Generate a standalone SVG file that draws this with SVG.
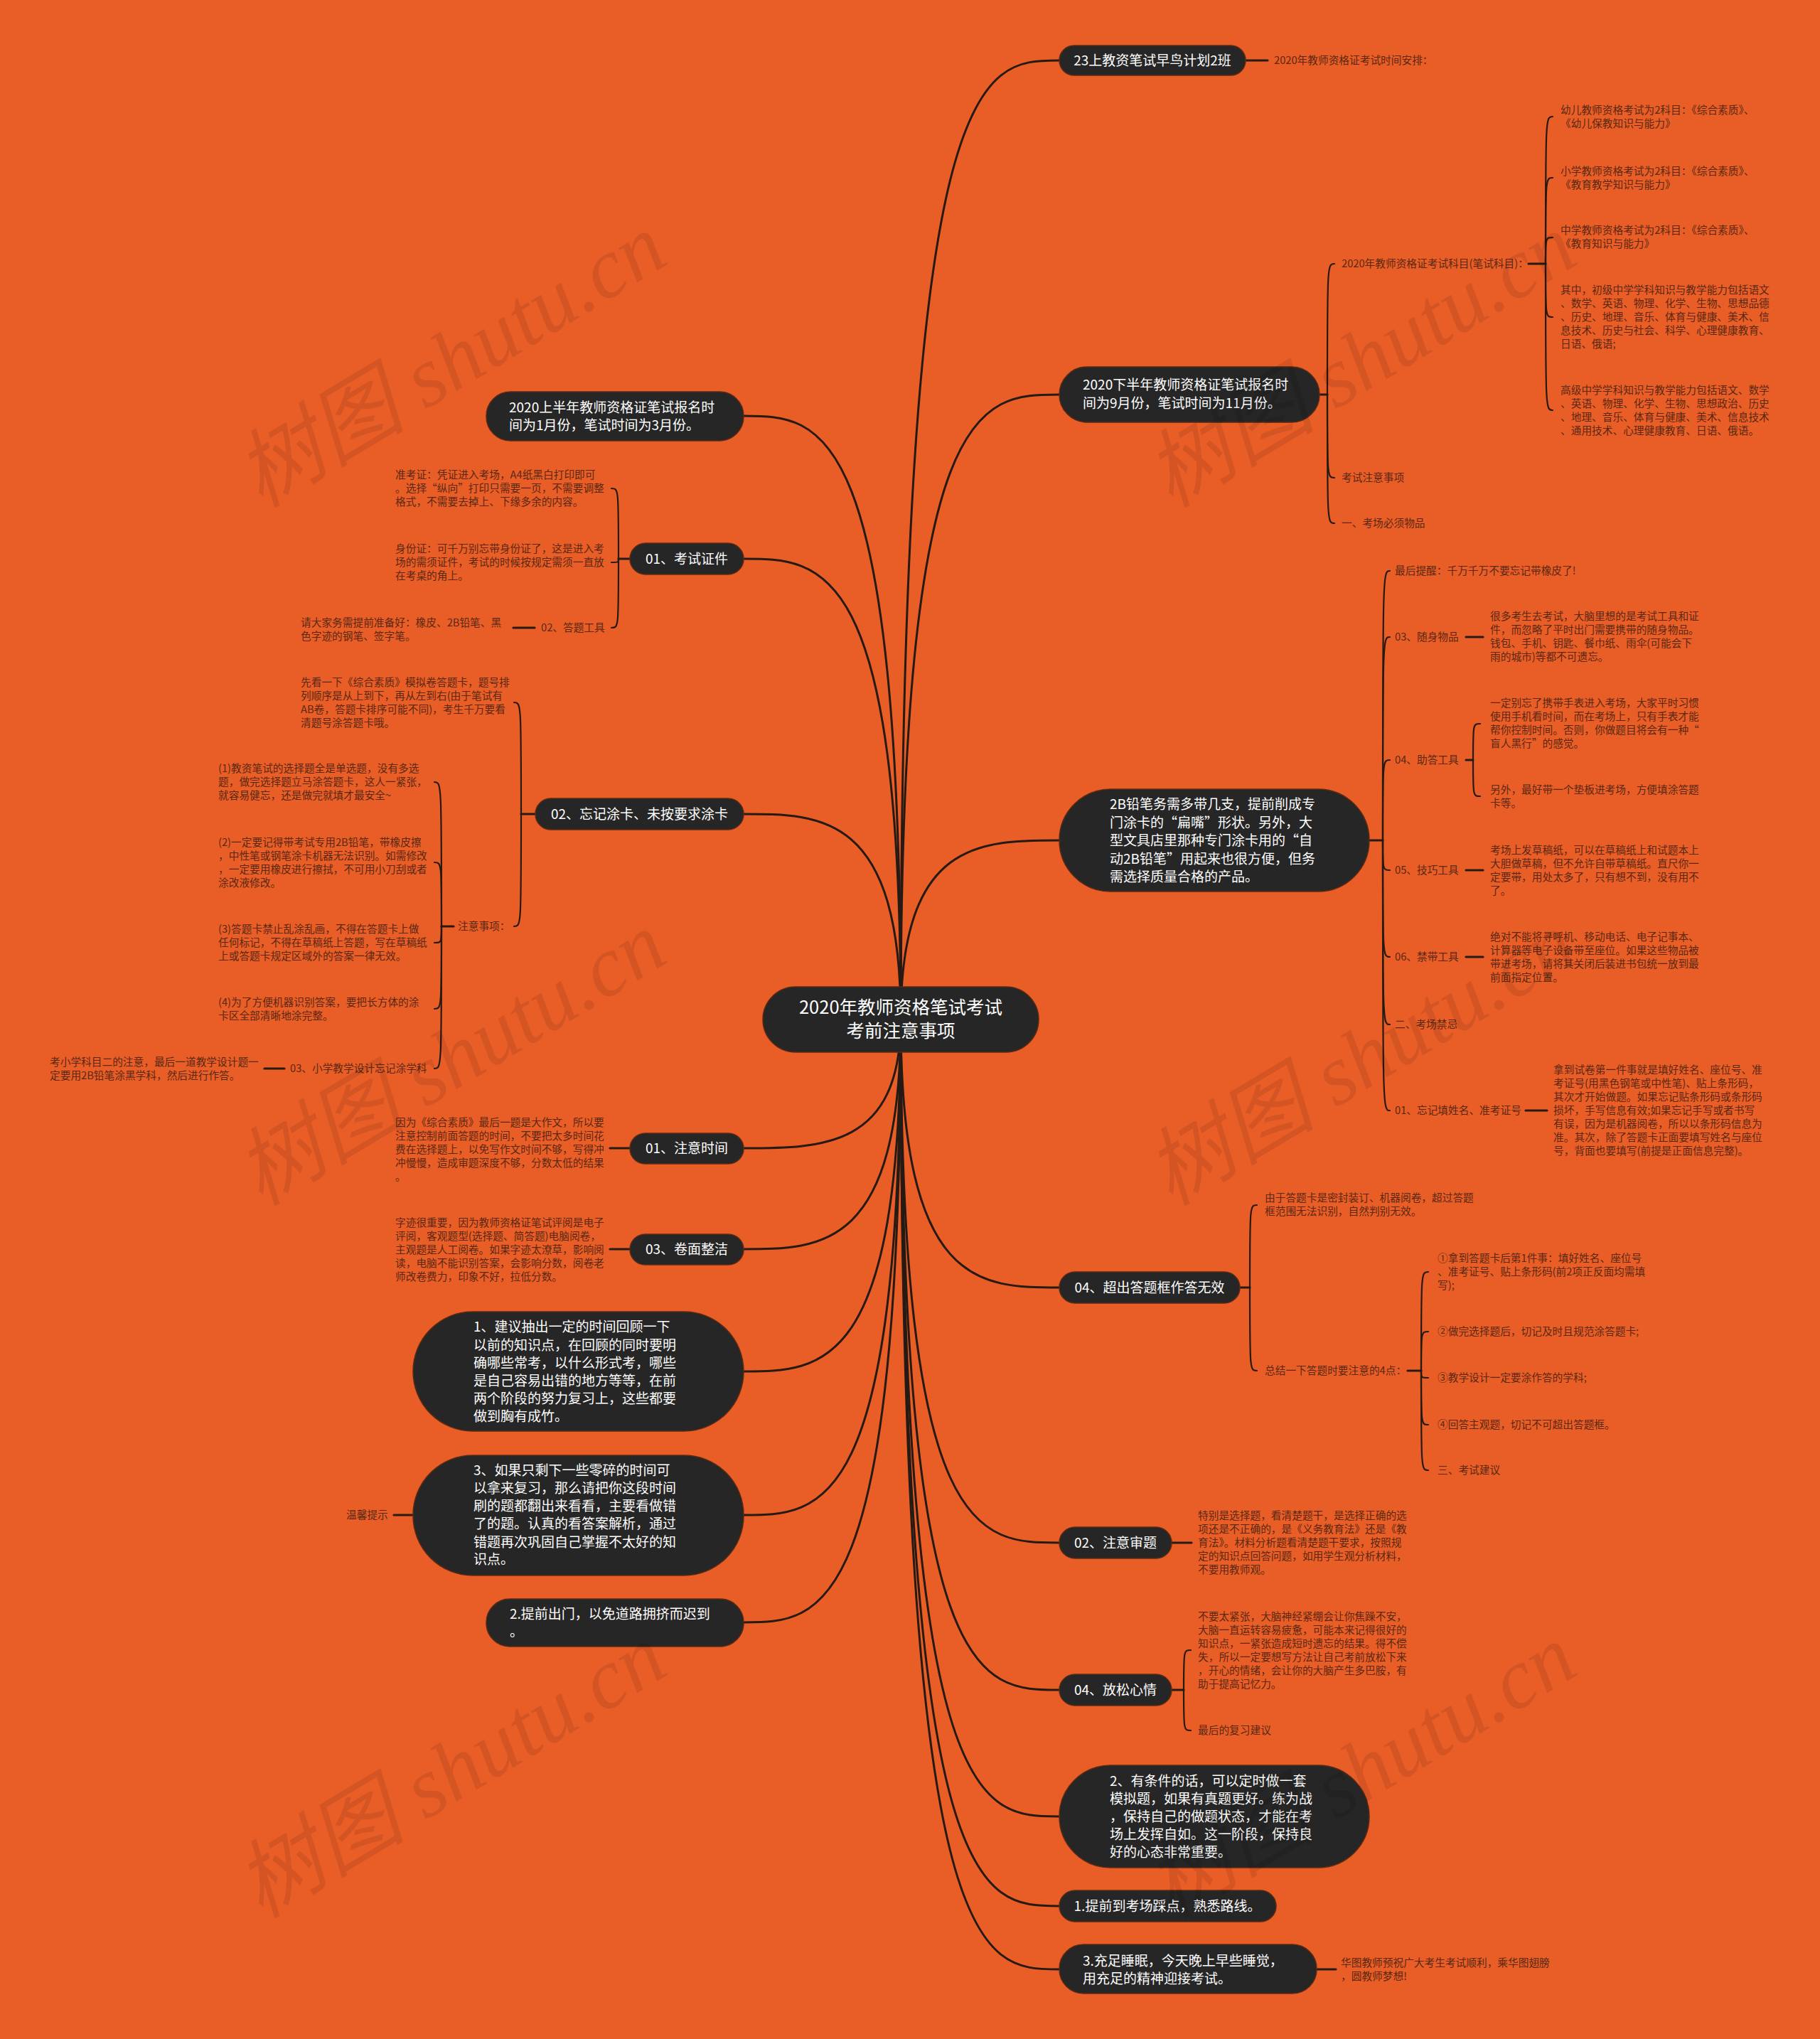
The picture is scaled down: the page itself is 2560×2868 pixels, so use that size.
<svg xmlns="http://www.w3.org/2000/svg" width="2560" height="2868" viewBox="0 0 2560 2868">
<defs>
<style>
.bg{fill:#E95E27}
.nd rect{fill:#262626;stroke:#5a2a14;stroke-width:1.5}
.nt{font-family:"Noto Sans CJK SC","Noto Sans",sans-serif;font-size:19px;fill:#ffffff}
.rt{font-size:25.5px}
.lf{font-family:"Noto Sans CJK SC","Noto Sans",sans-serif;font-size:14.7px;fill:#5a2812}
.conn path{fill:none;stroke:#261a14;stroke-linecap:round}
.mn{stroke-width:3}
.br{stroke-width:2.2}
.st{stroke-width:3.2}
.wm{font-family:"Liberation Serif","Noto Sans CJK SC",serif;font-style:italic;font-size:120px;fill:#000;fill-opacity:0.09}
</style>
</defs>
<rect class="bg" x="0" y="0" width="2560" height="2868"/>

<g id="connectors" class="conn">
<path class="mn" d="M1267,1434 C1267,85 1378,85 1490,85"/>
<path class="mn" d="M1267,1434 C1267,555 1378,555 1490,555"/>
<path class="mn" d="M1267,1434 C1267,1182 1378,1182 1490,1182"/>
<path class="mn" d="M1267,1434 C1267,1811 1378,1811 1490,1811"/>
<path class="mn" d="M1267,1434 C1267,2170 1378,2170 1490,2170"/>
<path class="mn" d="M1267,1434 C1267,2377 1378,2377 1490,2377"/>
<path class="mn" d="M1267,1434 C1267,2555 1378,2555 1490,2555"/>
<path class="mn" d="M1267,1434 C1267,2681 1378,2681 1490,2681"/>
<path class="mn" d="M1267,1434 C1267,2770 1378,2770 1490,2770"/>
<path class="mn" d="M1267,1434 C1267,585 1156,585 1046,585"/>
<path class="mn" d="M1267,1434 C1267,786 1156,786 1046,786"/>
<path class="mn" d="M1267,1434 C1267,1145 1156,1145 1046,1145"/>
<path class="mn" d="M1267,1434 C1267,1615 1156,1615 1046,1615"/>
<path class="mn" d="M1267,1434 C1267,1757 1156,1757 1046,1757"/>
<path class="mn" d="M1267,1434 C1267,1929 1156,1929 1046,1929"/>
<path class="mn" d="M1267,1434 C1267,2131 1156,2131 1046,2131"/>
<path class="mn" d="M1267,1434 C1267,2282 1156,2282 1046,2282"/>

<path class="st" d="M1752,85 H1783"/>
<path class="st" d="M1856,555 H1867"/>
<path class="br" d="M1867,555 C1867,371 1867,371 1877,371"/>
<path class="br" d="M1867,555 C1867,672 1867,672 1877,672"/>
<path class="br" d="M1867,555 C1867,736 1867,736 1877,736"/>
<path class="st" d="M2150,371 H2174"/>
<path class="br" d="M2174,371 C2174,164 2174,164 2184,164"/>
<path class="br" d="M2174,371 C2174,250 2174,250 2184,250"/>
<path class="br" d="M2174,371 C2174,334 2174,334 2184,334"/>
<path class="br" d="M2174,371 C2174,446 2174,446 2184,446"/>
<path class="br" d="M2174,371 C2174,577 2174,577 2184,577"/>
<path class="st" d="M1926,1182 H1945"/>
<path class="br" d="M1945,1182 C1945,803 1945,803 1955,803"/>
<path class="br" d="M1945,1182 C1945,896 1945,896 1955,896"/>
<path class="br" d="M1945,1182 C1945,1069 1945,1069 1955,1069"/>
<path class="br" d="M1945,1182 C1945,1224 1945,1224 1955,1224"/>
<path class="br" d="M1945,1182 C1945,1346 1945,1346 1955,1346"/>
<path class="br" d="M1945,1182 C1945,1441 1945,1441 1955,1441"/>
<path class="br" d="M1945,1182 C1945,1562 1945,1562 1955,1562"/>
<path class="st" d="M2062,896 H2086"/>
<path class="st" d="M2062,1069 H2072"/>
<path class="br" d="M2072,1069 C2072,1018 2072,1018 2082,1018"/>
<path class="br" d="M2072,1069 C2072,1120 2072,1120 2082,1120"/>
<path class="st" d="M2062,1224 H2086"/>
<path class="st" d="M2062,1346 H2086"/>
<path class="st" d="M2146,1562 H2176"/>
<path class="st" d="M1744,1811 H1758"/>
<path class="br" d="M1758,1811 C1758,1695 1758,1695 1768,1695"/>
<path class="br" d="M1758,1811 C1758,1928 1758,1928 1768,1928"/>
<path class="st" d="M1980,1928 H1999"/>
<path class="br" d="M1999,1928 C1999,1789 1999,1789 2009,1789"/>
<path class="br" d="M1999,1928 C1999,1873 1999,1873 2009,1873"/>
<path class="br" d="M1999,1928 C1999,1938 1999,1938 2009,1938"/>
<path class="br" d="M1999,1928 C1999,2004 1999,2004 2009,2004"/>
<path class="br" d="M1999,1928 C1999,2068 1999,2068 2009,2068"/>
<path class="st" d="M1648,2170 H1676"/>
<path class="st" d="M1648,2377 H1665"/>
<path class="br" d="M1665,2377 C1665,2321 1665,2321 1675,2321"/>
<path class="br" d="M1665,2377 C1665,2434 1665,2434 1675,2434"/>
<path class="st" d="M1852,2770 H1879"/>

<path class="st" d="M886,786 H870"/>
<path class="br" d="M870,786 C870,687 870,687 860,687"/>
<path class="br" d="M870,786 C870,791 870,791 860,791"/>
<path class="br" d="M870,786 C870,883 870,883 860,883"/>
<path class="st" d="M752,883 H722"/>
<path class="st" d="M753,1145 H733"/>
<path class="br" d="M733,1145 C733,988 733,988 723,988"/>
<path class="br" d="M733,1145 C733,1303 733,1303 723,1303"/>
<path class="st" d="M638,1303 H621"/>
<path class="br" d="M621,1303 C621,1100 621,1100 611,1100"/>
<path class="br" d="M621,1303 C621,1213 621,1213 611,1213"/>
<path class="br" d="M621,1303 C621,1326 621,1326 611,1326"/>
<path class="br" d="M621,1303 C621,1419 621,1419 611,1419"/>
<path class="br" d="M621,1303 C621,1503 621,1503 611,1503"/>
<path class="st" d="M400,1503 H372"/>
<path class="st" d="M886,1615 H858"/>
<path class="st" d="M886,1757 H858"/>
<path class="st" d="M581,2131 H554"/>
</g>

<g id="root" class="nd">
<rect x="1073" y="1388" width="388" height="92" rx="46" ry="46"/>
<text class="nt rt" x="1267" y="1426" text-anchor="middle">2020年教师资格笔试考试</text>
<text class="nt rt" x="1267" y="1459" text-anchor="middle">考前注意事项</text>
</g>

<g id="r1" class="nd">
<rect x="1490" y="64" width="262" height="42" rx="21"/>
<text class="nt" x="1621" y="91.5" text-anchor="middle">23上教资笔试早鸟计划2班</text>
</g>
<g id="r1-leaf"><text class="lf" x="1792" y="90">2020年教师资格证考试时间安排：</text></g>

<g id="r2" class="nd">
<rect x="1490" y="516" width="366" height="78" rx="39"/>
<text class="nt" x="1523" y="547.5">2020下半年教师资格证笔试报名时</text>
<text class="nt" x="1523" y="573.5">间为9月份，笔试时间为11月份。</text>
</g>
<g id="r2-leaves">
<text class="lf" x="1887" y="376">2020年教师资格证考试科目(笔试科目)：</text>
<text class="lf" x="1887" y="677">考试注意事项</text>
<text class="lf" x="1887" y="741">一、考场必须物品</text>
<text class="lf"><tspan x="2195" y="160">幼儿教师资格考试为2科目：《综合素质》、</tspan><tspan x="2195" y="179">《幼儿保教知识与能力》</tspan></text>
<text class="lf"><tspan x="2195" y="246">小学教师资格考试为2科目：《综合素质》、</tspan><tspan x="2195" y="265">《教育教学知识与能力》</tspan></text>
<text class="lf"><tspan x="2195" y="329">中学教师资格考试为2科目：《综合素质》、</tspan><tspan x="2195" y="348">《教育知识与能力》</tspan></text>
<text class="lf"><tspan x="2195" y="413">其中，初级中学学科知识与教学能力包括语文</tspan><tspan x="2195" y="432">、数学、英语、物理、化学、生物、思想品德</tspan><tspan x="2195" y="451">、历史、地理、音乐、体育与健康、美术、信</tspan><tspan x="2195" y="470">息技术、历史与社会、科学、心理健康教育、</tspan><tspan x="2195" y="489">日语、俄语;</tspan></text>
<text class="lf"><tspan x="2195" y="554">高级中学学科知识与教学能力包括语文、数学</tspan><tspan x="2195" y="573">、英语、物理、化学、生物、思想政治、历史</tspan><tspan x="2195" y="592">、地理、音乐、体育与健康、美术、信息技术</tspan><tspan x="2195" y="611">、通用技术、心理健康教育、日语、俄语。</tspan></text>
</g>

<g id="r3" class="nd">
<rect x="1490" y="1110" width="436" height="144" rx="72"/>
<text class="nt" x="1561" y="1137.5">2B铅笔务需多带几支，提前削成专</text>
<text class="nt" x="1561" y="1163.5">门涂卡的“扁嘴”形状。另外，大</text>
<text class="nt" x="1561" y="1188.5">型文具店里那种专门涂卡用的“自</text>
<text class="nt" x="1561" y="1214.5">动2B铅笔”用起来也很方便，但务</text>
<text class="nt" x="1561" y="1239.5">需选择质量合格的产品。</text>
</g>
<g id="r3-leaves">
<text class="lf" x="1962" y="808">最后提醒：千万千万不要忘记带橡皮了!</text>
<text class="lf" x="1962" y="901">03、随身物品</text>
<text class="lf" x="1962" y="1074">04、助答工具</text>
<text class="lf" x="1962" y="1229">05、技巧工具</text>
<text class="lf" x="1962" y="1351">06、禁带工具</text>
<text class="lf" x="1962" y="1446">二、考场禁忌</text>
<text class="lf" x="1962" y="1567">01、忘记填姓名、准考证号</text>
<text class="lf"><tspan x="2096" y="872">很多考生去考试，大脑里想的是考试工具和证</tspan><tspan x="2096" y="891">件，而忽略了平时出门需要携带的随身物品。</tspan><tspan x="2096" y="910">钱包、手机、钥匙、餐巾纸、雨伞(可能会下</tspan><tspan x="2096" y="929">雨的城市)等都不可遗忘。</tspan></text>
<text class="lf"><tspan x="2096" y="994">一定别忘了携带手表进入考场，大家平时习惯</tspan><tspan x="2096" y="1013">使用手机看时间，而在考场上，只有手表才能</tspan><tspan x="2096" y="1032">帮你控制时间。否则，你做题目将会有一种“</tspan><tspan x="2096" y="1051">盲人黑行”的感觉。</tspan></text>
<text class="lf"><tspan x="2096" y="1116">另外，最好带一个垫板进考场，方便填涂答题</tspan><tspan x="2096" y="1135">卡等。</tspan></text>
<text class="lf"><tspan x="2096" y="1201">考场上发草稿纸，可以在草稿纸上和试题本上</tspan><tspan x="2096" y="1220">大胆做草稿，但不允许自带草稿纸。直尺你一</tspan><tspan x="2096" y="1239">定要带，用处太多了，只有想不到，没有用不</tspan><tspan x="2096" y="1258">了。</tspan></text>
<text class="lf"><tspan x="2096" y="1323">绝对不能将寻呼机、移动电话、电子记事本、</tspan><tspan x="2096" y="1342">计算器等电子设备带至座位。如果这些物品被</tspan><tspan x="2096" y="1361">带进考场，请将其关闭后装进书包统一放到最</tspan><tspan x="2096" y="1380">前面指定位置。</tspan></text>
<text class="lf"><tspan x="2185" y="1510">拿到试卷第一件事就是填好姓名、座位号、准</tspan><tspan x="2185" y="1529">考证号(用黑色钢笔或中性笔)、贴上条形码，</tspan><tspan x="2185" y="1548">其次才开始做题。如果忘记贴条形码或条形码</tspan><tspan x="2185" y="1567">损坏，手写信息有效;如果忘记手写或者书写</tspan><tspan x="2185" y="1586">有误，因为是机器阅卷，所以以条形码信息为</tspan><tspan x="2185" y="1605">准。其次，除了答题卡正面要填写姓名与座位</tspan><tspan x="2185" y="1624">号，背面也要填写(前提是正面信息完整)。</tspan></text>
</g>

<g id="r4" class="nd">
<rect x="1490" y="1789" width="254" height="44" rx="22"/>
<text class="nt" x="1617" y="1817.5" text-anchor="middle">04、超出答题框作答无效</text>
</g>
<g id="r4-leaves">
<text class="lf"><tspan x="1779" y="1690">由于答题卡是密封装订、机器阅卷，超过答题</tspan><tspan x="1779" y="1709">框范围无法识别，自然判别无效。</tspan></text>
<text class="lf" x="1779" y="1933">总结一下答题时要注意的4点：</text>
<text class="lf"><tspan x="2022" y="1775">①拿到答题卡后第1件事：填好姓名、座位号</tspan><tspan x="2022" y="1794">、准考证号、贴上条形码(前2项正反面均需填</tspan><tspan x="2022" y="1813">写);</tspan></text>
<text class="lf" x="2022" y="1878">②做完选择题后，切记及时且规范涂答题卡;</text>
<text class="lf" x="2022" y="1943">③教学设计一定要涂作答的学科;</text>
<text class="lf" x="2022" y="2009">④回答主观题，切记不可超出答题框。</text>
<text class="lf" x="2022" y="2073">三、考试建议</text>
</g>

<g id="r5" class="nd">
<rect x="1490" y="2148" width="158" height="44" rx="22"/>
<text class="nt" x="1569" y="2176.5" text-anchor="middle">02、注意审题</text>
</g>
<g id="r5-leaf">
<text class="lf"><tspan x="1685" y="2137">特别是选择题，看清楚题干，是选择正确的选</tspan><tspan x="1685" y="2156">项还是不正确的，是《义务教育法》还是《教</tspan><tspan x="1685" y="2175">育法》。材料分析题看清楚题干要求，按照规</tspan><tspan x="1685" y="2194">定的知识点回答问题，如用学生观分析材料，</tspan><tspan x="1685" y="2213">不要用教师观。</tspan></text>
</g>

<g id="r6" class="nd">
<rect x="1490" y="2355" width="158" height="44" rx="22"/>
<text class="nt" x="1569" y="2383.5" text-anchor="middle">04、放松心情</text>
</g>
<g id="r6-leaves">
<text class="lf"><tspan x="1685" y="2279">不要太紧张，大脑神经紧绷会让你焦躁不安，</tspan><tspan x="1685" y="2298">大脑一直运转容易疲惫，可能本来记得很好的</tspan><tspan x="1685" y="2317">知识点，一紧张造成短时遗忘的结果。得不偿</tspan><tspan x="1685" y="2336">失，所以一定要想写方法让自己考前放松下来</tspan><tspan x="1685" y="2355">，开心的情绪，会让你的大脑产生多巴胺，有</tspan><tspan x="1685" y="2374">助于提高记忆力。</tspan></text>
<text class="lf" x="1685" y="2439">最后的复习建议</text>
</g>

<g id="r7" class="nd">
<rect x="1490" y="2483" width="436" height="144" rx="72"/>
<text class="nt" x="1561" y="2511.5">2、有条件的话，可以定时做一套</text>
<text class="nt" x="1561" y="2536.5">模拟题，如果有真题更好。练为战</text>
<text class="nt" x="1561" y="2561.5">，保持自己的做题状态，才能在考</text>
<text class="nt" x="1561" y="2586.5">场上发挥自如。这一阶段，保持良</text>
<text class="nt" x="1561" y="2611.5">好的心态非常重要。</text>
</g>

<g id="r8" class="nd">
<rect x="1490" y="2659" width="305" height="44" rx="22"/>
<text class="nt" x="1642" y="2687.5" text-anchor="middle">1.提前到考场踩点，熟悉路线。</text>
</g>

<g id="r9" class="nd">
<rect x="1490" y="2735" width="362" height="69" rx="34"/>
<text class="nt" x="1523" y="2764.5">3.充足睡眠，今天晚上早些睡觉，</text>
<text class="nt" x="1523" y="2789.5">用充足的精神迎接考试。</text>
</g>
<g id="r9-leaf">
<text class="lf"><tspan x="1886" y="2766">华图教师预祝广大考生考试顺利，乘华图翅膀</tspan><tspan x="1886" y="2785">，圆教师梦想!</tspan></text>
</g>

<g id="l1" class="nd">
<rect x="684" y="551" width="362" height="69" rx="34"/>
<text class="nt" x="716" y="579.5">2020上半年教师资格证笔试报名时</text>
<text class="nt" x="716" y="604.5">间为1月份，笔试时间为3月份。</text>
</g>

<g id="l2" class="nd">
<rect x="886" y="764" width="160" height="44" rx="22"/>
<text class="nt" x="966" y="792.5" text-anchor="middle">01、考试证件</text>
</g>
<g id="l2-leaves">
<text class="lf"><tspan x="556" y="673">准考证：凭证进入考场，A4纸黑白打印即可</tspan><tspan x="556" y="692">。选择“纵向”打印只需要一页，不需要调整</tspan><tspan x="556" y="711">格式，不需要去掉上、下缘多余的内容。</tspan></text>
<text class="lf"><tspan x="556" y="777">身份证：可千万别忘带身份证了，这是进入考</tspan><tspan x="556" y="796">场的需须证件，考试的时候按规定需须一直放</tspan><tspan x="556" y="815">在考桌的角上。</tspan></text>
<text class="lf" x="761" y="888">02、答题工具</text>
<text class="lf"><tspan x="423" y="881">请大家务需提前准备好：橡皮、2B铅笔、黑</tspan><tspan x="423" y="900">色字迹的钢笔、签字笔。</tspan></text>
</g>

<g id="l3" class="nd">
<rect x="753" y="1123" width="293" height="44" rx="22"/>
<text class="nt" x="899.5" y="1151.5" text-anchor="middle">02、忘记涂卡、未按要求涂卡</text>
</g>
<g id="l3-leaves">
<text class="lf"><tspan x="423" y="965">先看一下《综合素质》模拟卷答题卡，题号排</tspan><tspan x="423" y="984">列顺序是从上到下，再从左到右(由于笔试有</tspan><tspan x="423" y="1003">AB卷，答题卡排序可能不同)，考生千万要看</tspan><tspan x="423" y="1022">清题号涂答题卡哦。</tspan></text>
<text class="lf" x="644" y="1308">注意事项：</text>
<text class="lf"><tspan x="307" y="1086">(1)教资笔试的选择题全是单选题，没有多选</tspan><tspan x="307" y="1105">题，做完选择题立马涂答题卡，这人一紧张，</tspan><tspan x="307" y="1124">就容易健忘，还是做完就填才最安全~</tspan></text>
<text class="lf"><tspan x="307" y="1190">(2)一定要记得带考试专用2B铅笔，带橡皮擦</tspan><tspan x="307" y="1209">，中性笔或钢笔涂卡机器无法识别。如需修改</tspan><tspan x="307" y="1228">，一定要用橡皮进行擦拭，不可用小刀刮或者</tspan><tspan x="307" y="1247">涂改液修改。</tspan></text>
<text class="lf"><tspan x="307" y="1312">(3)答题卡禁止乱涂乱画，不得在答题卡上做</tspan><tspan x="307" y="1331">任何标记，不得在草稿纸上答题，写在草稿纸</tspan><tspan x="307" y="1350">上或答题卡规定区域外的答案一律无效。</tspan></text>
<text class="lf"><tspan x="307" y="1415">(4)为了方便机器识别答案，要把长方体的涂</tspan><tspan x="307" y="1434">卡区全部清晰地涂完整。</tspan></text>
<text class="lf" x="408" y="1508">03、小学教学设计忘记涂学科</text>
<text class="lf"><tspan x="70" y="1499">考小学科目二的注意，最后一道教学设计题一</tspan><tspan x="70" y="1518">定要用2B铅笔涂黑学科，然后进行作答。</tspan></text>
</g>

<g id="l4" class="nd">
<rect x="886" y="1594" width="160" height="43" rx="21.5"/>
<text class="nt" x="966" y="1621.5" text-anchor="middle">01、注意时间</text>
</g>
<g id="l4-leaf">
<text class="lf"><tspan x="556" y="1584">因为《综合素质》最后一题是大作文，所以要</tspan><tspan x="556" y="1603">注意控制前面答题的时间，不要把太多时间花</tspan><tspan x="556" y="1622">费在选择题上，以免写作文时间不够，写得冲</tspan><tspan x="556" y="1641">冲慢慢，造成审题深度不够，分数太低的结果</tspan><tspan x="556" y="1660">。</tspan></text>
</g>

<g id="l5" class="nd">
<rect x="886" y="1736" width="160" height="43" rx="21.5"/>
<text class="nt" x="966" y="1763.5" text-anchor="middle">03、卷面整洁</text>
</g>
<g id="l5-leaf">
<text class="lf"><tspan x="556" y="1725">字迹很重要，因为教师资格证笔试评阅是电子</tspan><tspan x="556" y="1744">评阅，客观题型(选择题、简答题)电脑阅卷，</tspan><tspan x="556" y="1763">主观题是人工阅卷。如果字迹太潦草，影响阅</tspan><tspan x="556" y="1782">读，电脑不能识别答案，会影响分数，阅卷老</tspan><tspan x="556" y="1801">师改卷费力，印象不好，拉低分数。</tspan></text>
</g>

<g id="l6" class="nd">
<rect x="581" y="1845" width="465" height="168" rx="84"/>
<text class="nt" x="666" y="1872.5">1、建议抽出一定的时间回顾一下</text>
<text class="nt" x="666" y="1898.5">以前的知识点，在回顾的同时要明</text>
<text class="nt" x="666" y="1923.5">确哪些常考，以什么形式考，哪些</text>
<text class="nt" x="666" y="1948.5">是自己容易出错的地方等等，在前</text>
<text class="nt" x="666" y="1973.5">两个阶段的努力复习上，这些都要</text>
<text class="nt" x="666" y="1998.5">做到胸有成竹。</text>
</g>

<g id="l7" class="nd">
<rect x="581" y="2047" width="465" height="169" rx="84"/>
<text class="nt" x="666" y="2074.5">3、如果只剩下一些零碎的时间可</text>
<text class="nt" x="666" y="2099.5">以拿来复习，那么请把你这段时间</text>
<text class="nt" x="666" y="2124.5">刷的题都翻出来看看，主要看做错</text>
<text class="nt" x="666" y="2149.5">了的题。认真的看答案解析，通过</text>
<text class="nt" x="666" y="2175.5">错题再次巩固自己掌握不太好的知</text>
<text class="nt" x="666" y="2199.5">识点。</text>
</g>
<g id="l7-leaf"><text class="lf" x="487" y="2136">温馨提示</text></g>

<g id="l8" class="nd">
<rect x="684" y="2249" width="362" height="67" rx="33"/>
<text class="nt" x="717" y="2276.5">2.提前出门，以免道路拥挤而迟到</text>
<text class="nt" x="717" y="2302">。</text>
</g>

<g id="watermark">
<text class="wm" x="645" y="545" text-anchor="middle" transform="rotate(-31 645 525)">树图 shutu.cn</text>
<text class="wm" x="1925" y="545" text-anchor="middle" transform="rotate(-31 1925 525)">树图 shutu.cn</text>
<text class="wm" x="645" y="1527" text-anchor="middle" transform="rotate(-31 645 1507)">树图 shutu.cn</text>
<text class="wm" x="1925" y="1527" text-anchor="middle" transform="rotate(-31 1925 1507)">树图 shutu.cn</text>
<text class="wm" x="645" y="2529" text-anchor="middle" transform="rotate(-31 645 2509)">树图 shutu.cn</text>
<text class="wm" x="1925" y="2529" text-anchor="middle" transform="rotate(-31 1925 2509)">树图 shutu.cn</text>
</g>
</svg>
